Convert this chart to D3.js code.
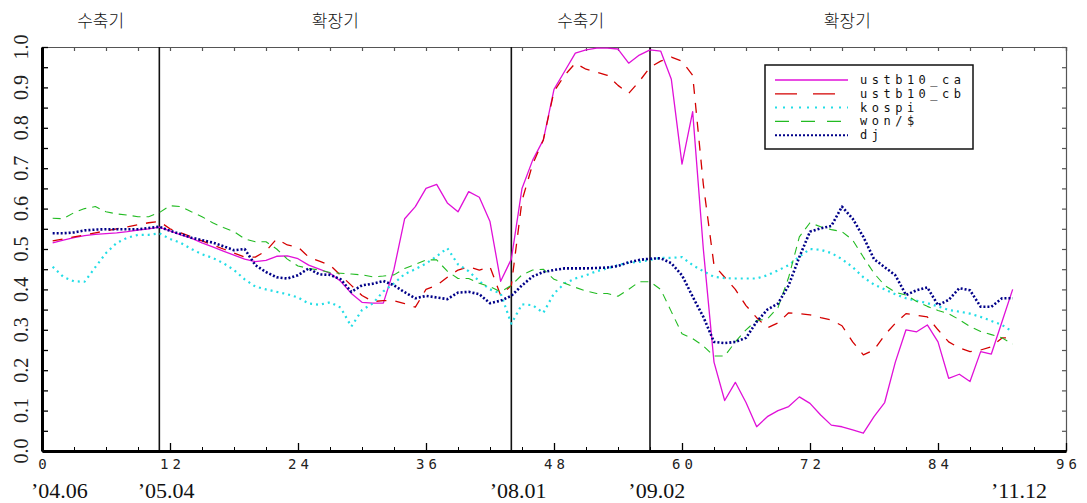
<!DOCTYPE html>
<html>
<head>
<meta charset="utf-8">
<script src="https://cdn.jsdelivr.net/npm/d3@7"></script>
<style>
  body { margin: 0; background: #fff; }
  svg { display: block; }
</style>
</head>
<body>
<script>
/*---------------------------
 DATA (months 1..91 from '04.06)
---------------------------*/
var months = d3.range(1, 92);

var ustb10_ca = [
  0.515, 0.522, 0.528, 0.533, 0.536, 0.538, 0.540, 0.543, 0.547, 0.550,
  0.554, 0.545, 0.535, 0.527, 0.515, 0.505, 0.495, 0.485, 0.475, 0.469,
  0.472, 0.482, 0.483, 0.476, 0.460, 0.450, 0.440, 0.420, 0.390, 0.368,
  0.366, 0.366, 0.450, 0.575, 0.605, 0.650, 0.660, 0.614, 0.592, 0.642,
  0.628, 0.568, 0.420, 0.475, 0.650, 0.720, 0.770, 0.895, 0.940, 0.985,
  0.993, 0.997, 0.997, 0.995, 0.960, 0.980, 0.993, 0.990, 0.920, 0.710,
  0.840, 0.500, 0.220, 0.125, 0.170, 0.120, 0.060, 0.085, 0.100, 0.110,
  0.134, 0.118, 0.089, 0.064, 0.060, 0.052, 0.044, 0.085, 0.120, 0.220,
  0.300, 0.295, 0.312, 0.270, 0.180, 0.190, 0.172, 0.246, 0.240, 0.320, 0.400
];
var ustb10_cb = [
  0.520, 0.525, 0.530, 0.535, 0.540, 0.545, 0.550, 0.555, 0.560, 0.565,
  0.568, 0.550, 0.540, 0.530, 0.520, 0.510, 0.500, 0.490, 0.480, 0.480,
  0.495, 0.525, 0.510, 0.505, 0.480, 0.470, 0.460, 0.435, 0.410, 0.385,
  0.370, 0.372, 0.372, 0.365, 0.356, 0.400, 0.410, 0.430, 0.448, 0.456,
  0.448, 0.456, 0.385, 0.410, 0.620, 0.710, 0.770, 0.890, 0.930, 0.960,
  0.945, 0.938, 0.930, 0.905, 0.885, 0.915, 0.950, 0.965, 0.975, 0.965,
  0.930, 0.660, 0.460, 0.430, 0.400, 0.360, 0.330, 0.305, 0.317, 0.342,
  0.340, 0.337, 0.330, 0.324, 0.310, 0.270, 0.238, 0.250, 0.287, 0.316,
  0.340, 0.336, 0.332, 0.300, 0.270, 0.255, 0.246, 0.250, 0.258, 0.280, 0.280
];
var kospi = [
  0.456, 0.431, 0.420, 0.419, 0.455, 0.490, 0.515, 0.528, 0.535, 0.535,
  0.539, 0.525, 0.515, 0.500, 0.487, 0.478, 0.465, 0.448, 0.425, 0.407,
  0.400, 0.394, 0.388, 0.380, 0.365, 0.362, 0.368, 0.355, 0.308, 0.349,
  0.365, 0.395, 0.415, 0.438, 0.450, 0.464, 0.482, 0.502, 0.462, 0.445,
  0.420, 0.400, 0.390, 0.315, 0.363, 0.361, 0.342, 0.390, 0.415, 0.427,
  0.435, 0.445, 0.452, 0.460, 0.466, 0.468, 0.473, 0.478, 0.478, 0.480,
  0.460, 0.445, 0.431, 0.428, 0.427, 0.427, 0.427, 0.435, 0.447, 0.460,
  0.481, 0.500, 0.498, 0.490, 0.475, 0.455, 0.430, 0.412, 0.400, 0.388,
  0.378, 0.372, 0.366, 0.358, 0.349, 0.345, 0.340, 0.332, 0.322, 0.312, 0.295
];
var won = [
  0.576, 0.575, 0.590, 0.600, 0.605, 0.592, 0.587, 0.584, 0.580, 0.580,
  0.590, 0.607, 0.605, 0.592, 0.580, 0.565, 0.553, 0.543, 0.525, 0.518,
  0.518, 0.500, 0.475, 0.458, 0.452, 0.448, 0.442, 0.440, 0.438, 0.436,
  0.431, 0.433, 0.436, 0.452, 0.462, 0.473, 0.473, 0.445, 0.427, 0.427,
  0.415, 0.407, 0.394, 0.410, 0.436, 0.448, 0.450, 0.425, 0.415, 0.405,
  0.396, 0.390, 0.390, 0.383, 0.400, 0.419, 0.419, 0.400, 0.345, 0.290,
  0.278, 0.260, 0.235, 0.235, 0.270, 0.300, 0.323, 0.327, 0.355, 0.430,
  0.530, 0.565, 0.555, 0.548, 0.543, 0.522, 0.480, 0.440, 0.410, 0.393,
  0.386, 0.370, 0.358, 0.348, 0.340, 0.325, 0.308, 0.296, 0.288, 0.280, 0.265
];
var dj = [
  0.539, 0.539, 0.541, 0.546, 0.548, 0.549, 0.549, 0.549, 0.549, 0.552,
  0.555, 0.545, 0.537, 0.528, 0.522, 0.516, 0.507, 0.497, 0.500, 0.460,
  0.443, 0.430, 0.427, 0.435, 0.452, 0.437, 0.436, 0.425, 0.394, 0.410,
  0.414, 0.421, 0.410, 0.393, 0.378, 0.384, 0.380, 0.376, 0.392, 0.394,
  0.388, 0.366, 0.372, 0.384, 0.410, 0.432, 0.443, 0.448, 0.452, 0.452,
  0.452, 0.453, 0.454, 0.458, 0.467, 0.473, 0.476, 0.477, 0.465, 0.435,
  0.382, 0.332, 0.270, 0.267, 0.270, 0.280, 0.320, 0.350, 0.365, 0.410,
  0.480, 0.543, 0.551, 0.557, 0.605, 0.575, 0.530, 0.475, 0.455, 0.435,
  0.386, 0.398, 0.405, 0.361, 0.374, 0.403, 0.398, 0.357, 0.357, 0.378, 0.378
];

var seriesNames = ["ustb10_ca", "ustb10_cb", "kospi", "won/$", "dj"];
var seriesValues = [ustb10_ca, ustb10_cb, kospi, won, dj];

// business-cycle turning points and the phase labels between them
var cycleLines = [11, 44, 57];
var phaseNames = ["수축기", "확장기", "수축기", "확장기"];
var phaseBounds = [0, 11, 44, 57, 94];

// calendar labels under the x axis
var dateLabels = ["’04.06", "’05.04", "’08.01", "’09.02", "’11.12"];
var dateMonths = [0, 10, 43, 56, 90];

var xTicks = d3.range(0, 97, 12);
var yTicks = d3.range(0, 11).map(function(i) { return i / 10; });

/*---------------------------
 LAYOUT
 (note: "top" is a reserved window global, so use plot* names)
---------------------------*/
var width = 1087, height = 503;
var plotLeft = 42, plotRight = 1066, plotTop = 47, plotBottom = 451;

var svg = d3.select("body").append("svg")
            .attr("width", width)
            .attr("height", height);

var x = d3.scaleLinear().domain([0, 96]).range([plotLeft, plotRight]);
var y = d3.scaleLinear().domain([0, 1]).range([plotBottom, plotTop]);

// style per series
var styles = [
  { color: "#e010d8", width: 1.3, dash: null,    legendDash: null },
  { color: "#d40000", width: 1.3, dash: "10,9",  legendDash: "22,16" },
  { color: "#22dde6", width: 2.2, dash: "2,4",   legendDash: "2,6" },
  { color: "#22bb22", width: 1.1, dash: "8,6",   legendDash: "14,12" },
  { color: "#000088", width: 2.6, dash: "2,2",   legendDash: "2,2" }
];

/*---------------------------
 FRAME + AXES
---------------------------*/
// thin top / right frame with inward ticks
svg.append("g")
   .attr("transform", "translate(0," + plotTop + ")")
   .call(d3.axisTop(x).tickValues(d3.range(0, 97, 3)).tickSize(-4).tickFormat(""))
   .call(function(g) {
     g.selectAll("path, line").attr("stroke", "#555").attr("stroke-width", 1.2);
   });
svg.append("g")
   .attr("transform", "translate(" + plotRight + ",0)")
   .call(d3.axisRight(y).tickValues(d3.range(0, 1.01, 0.05)).tickSize(-4).tickFormat(""))
   .call(function(g) {
     g.selectAll("path, line").attr("stroke", "#555").attr("stroke-width", 1.2);
   });

// cycle separators
svg.selectAll("line.cycle")
   .data(cycleLines)
   .enter()
   .append("line")
   .attr("class", "cycle")
   .attr("x1", function(d) { return x(d); })
   .attr("x2", function(d) { return x(d); })
   .attr("y1", plotTop)
   .attr("y2", plotBottom)
   .attr("stroke", "#111")
   .attr("stroke-width", 1.6);

// series lines
var line = d3.line()
             .x(function(d, i) { return x(months[i]); })
             .y(function(d) { return y(d); });

svg.selectAll("path.series")
   .data(seriesValues)
   .enter()
   .append("path")
   .attr("class", "series")
   .attr("d", function(d) { return line(d); })
   .attr("fill", "none")
   .attr("stroke", function(d, i) { return styles[i].color; })
   .attr("stroke-width", function(d, i) { return styles[i].width; })
   .attr("stroke-dasharray", function(d, i) { return styles[i].dash; })
   .attr("stroke-linejoin", "round");

// bottom axis: minor ticks every 3, major every 12
svg.append("g")
   .attr("transform", "translate(0," + plotBottom + ")")
   .call(d3.axisBottom(x).tickValues(d3.range(0, 97, 3)).tickSize(-4).tickSizeOuter(0).tickFormat(""))
   .call(function(g) { g.select(".domain").remove(); });

var xAxis = svg.append("g")
   .attr("transform", "translate(0," + plotBottom + ")")
   .call(d3.axisBottom(x).tickValues(xTicks).tickSize(-8).tickSizeOuter(0).tickPadding(8));
xAxis.select(".domain").attr("stroke-width", 3);
xAxis.selectAll("line").attr("stroke-width", 1.3);
xAxis.selectAll("text")
     .attr("font-family", "DejaVu Sans Mono")
     .attr("font-size", 14)
     .attr("letter-spacing", 4)
     .attr("dx", 2)
     .attr("fill", "#222");

// left axis: ticks every 0.05
var yAxis = svg.append("g")
   .attr("transform", "translate(" + plotLeft + ",0)")
   .call(d3.axisLeft(y).tickValues(d3.range(0, 1.01, 0.05)).tickSize(-6).tickSizeOuter(0).tickFormat(""));
yAxis.select(".domain").attr("stroke-width", 3);
yAxis.selectAll("line").attr("stroke-width", 1.3);

// rotated y labels
svg.selectAll("text.ylab")
   .data(yTicks)
   .enter()
   .append("text")
   .attr("class", "ylab")
   .attr("transform", function(d) { return "translate(28," + y(d) + ") rotate(-90)"; })
   .attr("text-anchor", "middle")
   .attr("font-family", "Liberation Serif")
   .attr("font-size", 20)
   .attr("fill", "#222")
   .text(function(d) { return d.toFixed(1); });

/*---------------------------
 TEXT LABELS
---------------------------*/
svg.selectAll("text.phase")
   .data(phaseNames)
   .enter()
   .append("text")
   .attr("class", "phase")
   .attr("x", function(d, i) { return x((phaseBounds[i] + phaseBounds[i + 1]) / 2); })
   .attr("y", 27)
   .attr("text-anchor", "middle")
   .attr("font-family", "Noto Sans CJK KR")
   .attr("font-weight", 300)
   .attr("font-size", 17)
   .attr("fill", "#111")
   .text(function(d) { return d; });

svg.selectAll("text.date")
   .data(dateLabels)
   .enter()
   .append("text")
   .attr("class", "date")
   .attr("x", function(d, i) { return x(dateMonths[i]) - 11; })
   .attr("y", 498)
   .attr("font-family", "Liberation Serif")
   .attr("font-size", 22)
   .attr("fill", "#111")
   .text(function(d) { return d; });

/*---------------------------
 LEGEND
---------------------------*/
var legend = svg.append("g").attr("transform", "translate(765,65)");

legend.append("rect")
      .attr("width", 208)
      .attr("height", 84)
      .attr("fill", "#fff")
      .attr("stroke", "#111")
      .attr("stroke-width", 1.5);

var rows = legend.selectAll("g.row")
                 .data(seriesNames)
                 .enter()
                 .append("g")
                 .attr("class", "row")
                 .attr("transform", function(d, i) { return "translate(0," + (15 + i * 13.8) + ")"; });

rows.append("line")
    .attr("x1", 10)
    .attr("x2", 83)
    .attr("stroke", function(d, i) { return styles[i].color; })
    .attr("stroke-width", function(d, i) { return Math.min(styles[i].width, 2); })
    .attr("stroke-dasharray", function(d, i) { return styles[i].legendDash; });

rows.append("text")
    .attr("x", 95)
    .attr("y", 4)
    .attr("font-family", "DejaVu Sans Mono")
    .attr("font-size", 12)
    .attr("letter-spacing", 4.5)
    .attr("fill", "#111")
    .text(function(d) { return d; });
</script>
</body>
</html>
